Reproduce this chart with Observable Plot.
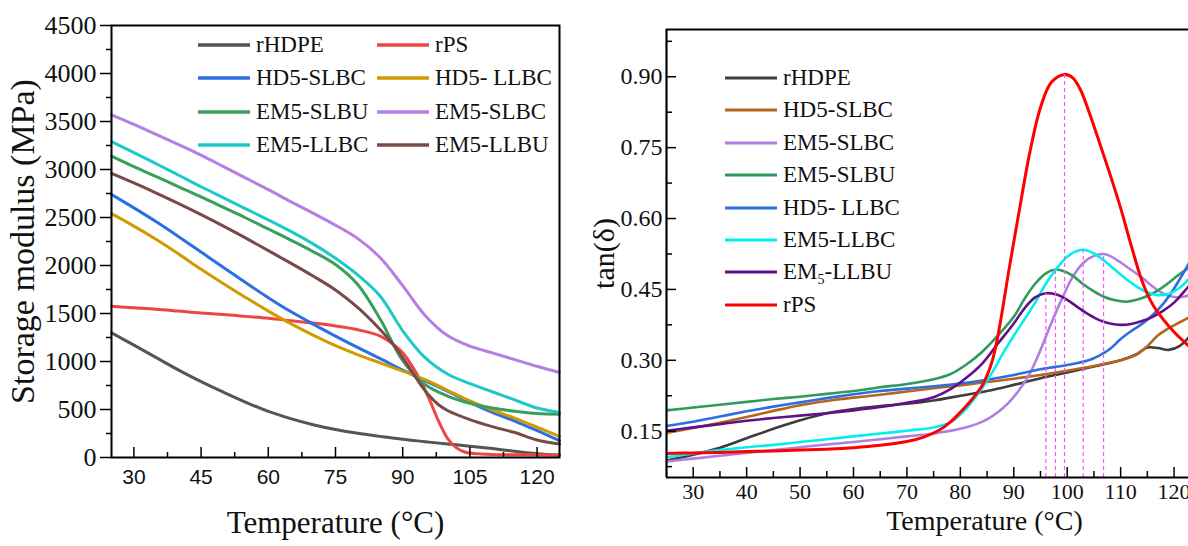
<!DOCTYPE html>
<html><head><meta charset="utf-8">
<script src="https://cdn.jsdelivr.net/npm/d3@7"></script>
<script src="https://cdn.jsdelivr.net/npm/@observablehq/plot@0.6"></script>
<style>
body{margin:0;background:#fff;overflow:hidden;}
#wrap{position:relative;width:1188px;height:546px;overflow:hidden;background:#fff;}
#left{position:absolute;left:0;top:0;}
#right{position:absolute;left:590px;top:0;}
.item{position:absolute;white-space:nowrap;display:flex;align-items:center;height:30px;
  font-family:'Liberation Serif','Times New Roman',serif;font-size:23px;color:#111;}
.item svg{display:block;margin-right:6px;}
.item sub{font-size:14px;vertical-align:-5px;line-height:0;}
</style></head>
<body><div id="wrap"><div id="left"></div><div id="right"></div></div>
<script>
// ---------- LEFT PANEL DATA (Storage modulus, MPa) ----------
const leftXDomain = [25, 125];
const leftYDomain = [0, 4500];
const leftXTicks = [30, 45, 60, 75, 90, 105, 120];
const leftXMinorTicks = [37.5, 52.5, 67.5, 82.5, 97.5, 112.5];
const leftYTicks = [0, 500, 1000, 1500, 2000, 2500, 3000, 3500, 4000, 4500];
const leftYMinorTicks = [250, 750, 1250, 1750, 2250, 2750, 3250, 3750, 4250];

const L_rHDPE = [[25,1300],[30,1170],[35,1040],[40,910],[45,790],[50,680],[55,575],[60,480],[65,405],[70,342],[75,292],[80,252],[85,220],[90,190],[95,165],[100,140],[105,118],[110,93],[115,65],[120,40],[125,25]];
const L_rPS = [[25,1575],[30,1560],[35,1545],[40,1525],[45,1505],[50,1490],[55,1470],[60,1450],[65,1425],[70,1400],[75,1370],[80,1330],[85,1265],[88,1175],[90,1090],[92,960],[94,800],[96,600],[98,380],[100,200],[102,100],[104,55],[107,38],[110,32],[118,28],[125,25]];
const L_HD5SLBC = [[25,2740],[30,2600],[35,2455],[40,2300],[45,2140],[50,1980],[55,1820],[60,1665],[65,1520],[70,1390],[75,1265],[80,1145],[85,1030],[90,910],[95,800],[100,690],[105,575],[110,470],[115,380],[120,280],[125,175]];
const L_HD5LLBC = [[25,2540],[30,2410],[35,2270],[40,2120],[45,1960],[50,1810],[55,1665],[60,1525],[65,1395],[70,1275],[75,1165],[80,1070],[85,985],[90,900],[95,810],[100,700],[105,590],[110,495],[115,410],[120,315],[125,220]];
const L_EM5SLBU = [[25,3140],[30,3030],[35,2925],[40,2820],[45,2715],[50,2605],[55,2495],[60,2380],[65,2265],[70,2145],[75,2010],[80,1800],[85,1440],[90,1010],[95,760],[100,640],[105,565],[110,515],[115,482],[120,458],[125,450]];
const L_EM5SLBC = [[25,3570],[30,3470],[35,3365],[40,3260],[45,3150],[50,3030],[55,2910],[60,2790],[65,2665],[70,2545],[75,2420],[80,2280],[85,2080],[90,1790],[95,1480],[100,1270],[105,1160],[110,1090],[115,1020],[120,950],[125,885]];
const L_EM5LLBC = [[25,3290],[30,3175],[35,3060],[40,2940],[45,2820],[50,2705],[55,2590],[60,2475],[65,2355],[70,2225],[75,2075],[80,1900],[85,1680],[90,1320],[95,1040],[100,870],[105,770],[110,685],[115,600],[120,515],[125,470]];
const L_EM5LLBU = [[25,2960],[30,2860],[35,2755],[40,2645],[45,2530],[50,2410],[55,2285],[60,2155],[65,2025],[70,1890],[75,1745],[80,1560],[85,1330],[88,1170],[90,1040],[92,900],[94,760],[96,640],[98,550],[100,490],[105,395],[110,322],[115,260],[120,182],[125,140]];

const leftNames = ["rHDPE","rPS","HD5-SLBC","HD5- LLBC","EM5-SLBU","EM5-SLBC","EM5-LLBC","EM5-LLBU"];
const leftColors = ["#555555","#f04545","#2a70e0","#d09a00","#3a9e5c","#b47ee5","#1ec8c8","#7a4a4a"];
const leftData = [L_rHDPE, L_rPS, L_HD5SLBC, L_HD5LLBC, L_EM5SLBU, L_EM5SLBC, L_EM5LLBC, L_EM5LLBU];

// ---------- RIGHT PANEL DATA (tan δ) ----------
const rightXDomain = [25, 122.7];
const rightYDomain = [0.052, 1.0];
const rightXTicks = [30, 40, 50, 60, 70, 80, 90, 100, 110, 120];
const rightXMinorTicks = [35, 45, 55, 65, 75, 85, 95, 105, 115];
const rightYTicks = [0.15, 0.30, 0.45, 0.60, 0.75, 0.90];
const rightYMinorTicks = [0.075, 0.225, 0.375, 0.525, 0.675, 0.825, 0.975];

const R_rHDPE = [[25,0.088],[30,0.100],[35,0.115],[40,0.135],[45,0.155],[50,0.173],[55,0.188],[60,0.197],[65,0.203],[70,0.208],[75,0.215],[80,0.225],[85,0.235],[90,0.248],[95,0.262],[100,0.274],[105,0.287],[110,0.300],[113,0.313],[115,0.327],[117,0.326],[119,0.322],[121,0.330],[123,0.352]];
const R_HD5SLBC = [[25,0.146],[30,0.157],[35,0.168],[40,0.180],[45,0.193],[50,0.205],[55,0.214],[60,0.221],[65,0.227],[70,0.234],[75,0.241],[80,0.247],[85,0.254],[90,0.261],[95,0.269],[100,0.278],[105,0.288],[110,0.300],[113,0.312],[115,0.330],[117,0.353],[119,0.368],[121,0.380],[123,0.392]];
const R_EM5SLBC = [[25,0.086],[30,0.092],[35,0.098],[40,0.104],[45,0.110],[50,0.116],[55,0.122],[60,0.127],[65,0.133],[70,0.139],[75,0.145],[80,0.155],[83,0.165],[85,0.175],[87,0.190],[89,0.210],[91,0.237],[93,0.272],[95,0.322],[97,0.378],[99,0.430],[101,0.476],[103,0.506],[105,0.521],[106.8,0.525],[108,0.521],[110,0.507],[112,0.491],[114,0.475],[116,0.456],[118,0.441],[120,0.434],[122,0.435],[123,0.44]];
const R_EM5SLBU = [[25,0.194],[30,0.200],[35,0.206],[40,0.212],[45,0.218],[50,0.223],[55,0.229],[60,0.235],[65,0.243],[70,0.250],[75,0.260],[78,0.270],[81,0.290],[84,0.317],[87,0.352],[90,0.392],[92,0.430],[94,0.462],[96,0.484],[97.8,0.492],[99.5,0.488],[101,0.479],[103,0.461],[105,0.446],[107,0.434],[109,0.427],[111,0.424],[113,0.428],[115,0.436],[117,0.448],[119,0.464],[121,0.482],[123,0.497]];
const R_HD5LLBC = [[25,0.161],[30,0.170],[35,0.181],[40,0.192],[45,0.202],[50,0.211],[55,0.220],[60,0.228],[65,0.235],[70,0.240],[75,0.245],[80,0.251],[85,0.259],[90,0.269],[95,0.281],[100,0.290],[104,0.300],[106,0.310],[108,0.324],[110,0.345],[112,0.362],[114,0.377],[116,0.396],[118,0.420],[120,0.452],[122,0.490],[123,0.51]];
const R_EM5LLBC = [[25,0.095],[30,0.103],[35,0.110],[40,0.116],[45,0.121],[50,0.127],[55,0.133],[60,0.139],[65,0.145],[70,0.151],[75,0.158],[78,0.168],[80,0.185],[82,0.210],[84,0.240],[86,0.275],[88,0.315],[90,0.352],[92,0.387],[94,0.422],[96,0.462],[98,0.494],[100,0.519],[101.5,0.530],[103,0.534],[105,0.526],[107,0.510],[109,0.491],[111,0.472],[113,0.456],[115,0.444],[117,0.438],[119,0.441],[121,0.453],[123,0.475]];
const R_EM5LLBU = [[25,0.151],[30,0.158],[35,0.165],[40,0.172],[45,0.178],[50,0.183],[55,0.188],[60,0.194],[65,0.201],[70,0.210],[75,0.222],[78,0.238],[81,0.262],[84,0.292],[87,0.335],[90,0.378],[92,0.410],[94,0.433],[96,0.442],[98,0.439],[100,0.428],[102,0.412],[104,0.397],[106,0.385],[108,0.378],[110,0.375],[112,0.377],[114,0.383],[116,0.392],[118,0.405],[120,0.422],[122,0.447],[123,0.46]];
const R_rPS = [[25,0.103],[30,0.104],[35,0.105],[40,0.107],[45,0.108],[50,0.110],[55,0.112],[60,0.115],[65,0.120],[70,0.128],[73,0.137],[76,0.152],[78,0.168],[80,0.190],[82,0.215],[84,0.245],[85,0.268],[86,0.300],[87,0.350],[88,0.415],[89,0.485],[91,0.615],[93,0.740],[95,0.835],[97,0.888],[99.5,0.905],[101,0.898],[102.5,0.872],[104,0.828],[106,0.762],[108,0.694],[110,0.622],[112,0.542],[114,0.468],[116,0.418],[118,0.386],[120,0.360],[122,0.338],[123,0.328]];

const rightNames = ["rHDPE","HD5-SLBC","EM5-SLBC","EM5-SLBU","HD5- LLBC","EM5-LLBC","EM<sub>5</sub>-LLBU","rPS"];
const rightColors = ["#3d3d3d","#b5651d","#b07ee0","#2e9a5e","#2c6fe0","#00f0f0","#62108a","#ff0000"];
const rightData = [R_rHDPE, R_HD5SLBC, R_EM5SLBC, R_EM5SLBU, R_HD5LLBC, R_EM5LLBC, R_EM5LLBU, R_rPS];
// series whose tan δ relaxation peak (90–110 °C) is marked with a dashed guide line
const peakSeries = [R_EM5LLBU, R_EM5SLBU, R_rPS, R_EM5LLBC, R_EM5SLBC];
const peakWindow = [90, 110];

// ---------- DRAWING ----------
const serif = "'Liberation Serif','Times New Roman',serif";
const sans = "'Liberation Sans',Arial,sans-serif";

// left layout
const LW = 590, LH = 546, LML = 111, LMR = 31, LMT = 25, LMB = 89;
const LPW = LW - LML - LMR, LPH = LH - LMT - LMB;

const leftPlot = Plot.plot({
  width: LW, height: LH,
  marginLeft: LML, marginRight: LMR, marginTop: LMT, marginBottom: LMB,
  x: {domain: leftXDomain, axis: null},
  y: {domain: leftYDomain, axis: null},
  style: {overflow: "visible", background: "transparent"},
  marks: [
    ...leftData.map((d, i) => Plot.line(d, {x: p => p[0], y: p => p[1], stroke: leftColors[i], strokeWidth: 3, curve: "catmull-rom"})),
    Plot.frame({stroke: "black", strokeWidth: 2}),
    Plot.ruleX(leftXTicks, {x: d => d, insetTop: LPH - 10, stroke: "black", strokeWidth: 1.5}),
    Plot.ruleX(leftXMinorTicks, {x: d => d, insetTop: LPH - 5, stroke: "black", strokeWidth: 1.5}),
    Plot.ruleY(leftYTicks, {y: d => d, insetLeft: -11, insetRight: LPW, stroke: "black", strokeWidth: 1.5}),
    Plot.ruleY(leftYMinorTicks, {y: d => d, insetLeft: -5, insetRight: LPW, stroke: "black", strokeWidth: 1.5}),
    Plot.text(leftXTicks, {x: d => d, frameAnchor: "bottom", dy: 26, text: d => String(d), fontFamily: sans, fontSize: 21, fill: "#111"}),
    Plot.text(leftYTicks, {y: d => d, frameAnchor: "left", dx: -15, textAnchor: "end", text: d => String(d), fontFamily: serif, fontSize: 26, fill: "#111"}),
    Plot.text(["Storage modulus (MPa)"], {frameAnchor: "left", textAnchor: "middle", dx: -88, rotate: -90, text: d => d, fontFamily: serif, fontSize: 34, fill: "#111"}),
    Plot.text(["Temperature (°C)"], {frameAnchor: "bottom", textAnchor: "middle", dy: 75, text: d => d, fontFamily: serif, fontSize: 31, fill: "#111"})
  ]
});
document.getElementById("left").appendChild(leftPlot);

// right layout
const RW = 598, RH = 546, RML = 76, RMR = 0, RMT = 29, RMB = 69;
const RPW = RW - RML - RMR, RPH = RH - RMT - RMB;
const peaks = peakSeries.map(s => s.filter(p => p[0] >= peakWindow[0] && p[0] <= peakWindow[1])
                                 .reduce((a, b) => (b[1] > a[1] ? b : a)));

const rightPlot = Plot.plot({
  width: RW, height: RH,
  marginLeft: RML, marginRight: RMR, marginTop: RMT, marginBottom: RMB,
  x: {domain: rightXDomain, axis: null},
  y: {domain: rightYDomain, axis: null},
  style: {overflow: "visible", background: "transparent"},
  marks: [
    ...rightData.map((d, i) => Plot.line(d, {x: p => p[0], y: p => p[1], stroke: rightColors[i], strokeWidth: i === 7 ? 3 : 2.6, curve: "catmull-rom", clip: true})),
    Plot.ruleX(peaks, {x: d => d[0], y1: rightYDomain[0], y2: d => d[1], stroke: "#ff55ff", strokeWidth: 1.2, strokeDasharray: "4,3"}),
    Plot.ruleX([rightXDomain[0]], {x: d => d, stroke: "black", strokeWidth: 2.2}),
    Plot.ruleY([rightYDomain[0], rightYDomain[1]], {y: d => d, stroke: "black", strokeWidth: 2.2}),
    Plot.ruleX(rightXTicks, {x: d => d, insetTop: RPH - 10, stroke: "black", strokeWidth: 1.5}),
    Plot.ruleX(rightXMinorTicks, {x: d => d, insetTop: RPH - 6, stroke: "black", strokeWidth: 1.5}),
    Plot.ruleY(rightYTicks, {y: d => d, insetRight: RPW - 10, stroke: "black", strokeWidth: 1.5}),
    Plot.ruleY(rightYMinorTicks, {y: d => d, insetRight: RPW - 6, stroke: "black", strokeWidth: 1.5}),
    Plot.text(rightXTicks, {x: d => d, frameAnchor: "bottom", dy: 21, text: d => String(d), fontFamily: serif, fontSize: 22, fill: "#111"}),
    Plot.text(rightYTicks, {y: d => d, frameAnchor: "left", dx: -4, textAnchor: "end", text: d => d3.format(".2f")(d), fontFamily: serif, fontSize: 24, fill: "#111"}),
    Plot.text(["tan(δ)"], {frameAnchor: "left", textAnchor: "middle", dx: -62, rotate: -90, text: d => d, fontFamily: serif, fontSize: 30, fill: "#111"}),
    Plot.text(["Temperature (°C)"], {frameAnchor: "bottom", textAnchor: "middle", dy: 52, dx: 57, text: d => d, fontFamily: serif, fontSize: 28, fill: "#111"})
  ]
});
document.getElementById("right").appendChild(rightPlot);

// ---------- LEGENDS ----------
function addItem(x, y, color, label, sw) {
  const div = document.createElement("div");
  div.className = "item";
  div.style.left = x + "px";
  div.style.top = (y - 15) + "px";
  div.innerHTML = `<svg width="52" height="8"><line x1="0" y1="4" x2="52" y2="4" stroke="${color}" stroke-width="${sw}"/></svg><span>${label}</span>`;
  document.getElementById("wrap").appendChild(div);
}
leftNames.forEach((n, i) => {
  const col = i % 2, row = Math.floor(i / 2);
  addItem(col ? 377 : 198, 45 + row * 33.3, leftColors[i], n, 3.5);
});
rightNames.forEach((n, i) => {
  addItem(725, 78 + i * 32.4, rightColors[i], n, 3);
});
</script>
</body></html>
